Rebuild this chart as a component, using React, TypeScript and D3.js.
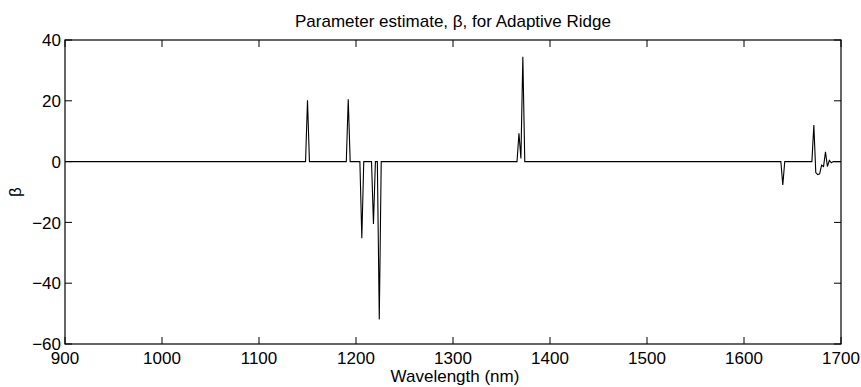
import React from "react";
import * as d3 from "d3";

// Wavelength (nm) vertices of the coefficient trace, and beta values at them
const wavelengths = [
  900, 1148, 1150, 1152, 1190, 1192, 1194, 1204, 1206, 1208, 1216, 1218, 1220,
  1222, 1224, 1226, 1366, 1368, 1370, 1372, 1374, 1638, 1640, 1642, 1670, 1672,
  1674, 1676, 1678, 1680, 1682, 1684, 1686, 1688, 1690, 1692, 1700,
];
const betas = [
  0, 0, 20.2, 0, 0, 20.5, 0, 0, -25.2, 0, 0, -20.5, 0,
  0, -51.9, 0, 0, 9.3, 1.0, 34.5, 0, 0, -7.7, 0, 0, 12.0,
  -3.6, -4.3, -4.0, -1.2, -1.6, 3.2, -1.6, 0.4, -0.4, 0, 0,
];
const xTicks = [900, 1000, 1100, 1200, 1300, 1400, 1500, 1600, 1700];
const yTicks = [-60, -40, -20, 0, 20, 40];
const titleText = "Parameter estimate, \u03B2, for Adaptive Ridge";
const xLabelText = "Wavelength (nm)";
const yLabelText = "\u03B2";

const W = 861;
const H = 387;
const M = { left: 65, right: 20, top: 40, bottom: 43 };
const FONT = "'Liberation Sans', Arial, Helvetica, sans-serif";

export default function App() {
  const x = d3.scaleLinear().domain([900, 1700]).range([M.left, W - M.right]);
  const y = d3.scaleLinear().domain([-60, 40]).range([H - M.bottom, M.top]);
  const pts: [number, number][] = wavelengths.map((w, i) => [w, betas[i]]);
  const line = d3
    .line<[number, number]>()
    .x((d) => x(d[0]))
    .y((d) => y(d[1]));
  const x0 = M.left;
  const x1 = W - M.right;
  const y0 = H - M.bottom;
  const y1 = M.top;
  const tl = 7;
  const fs = 17;
  return (
    <svg
      width={W}
      height={H}
      style={{ position: "absolute", left: 0, top: 0, background: "#fff" }}
      fontFamily={FONT}
    >
      <rect x={0} y={0} width={W} height={H} fill="#fff" />
      <path d={line(pts) ?? ""} fill="none" stroke="#000" strokeWidth={1.1} />
      <rect
        x={x0}
        y={y1}
        width={x1 - x0}
        height={y0 - y1}
        fill="none"
        stroke="#000"
        strokeWidth={1.2}
      />
      {xTicks.map((t) => (
        <g key={"x" + t}>
          <line x1={x(t)} x2={x(t)} y1={y0} y2={y0 - tl} stroke="#000" />
          <line x1={x(t)} x2={x(t)} y1={y1} y2={y1 + tl} stroke="#000" />
          <text x={x(t)} y={y0 + 20} textAnchor="middle" fontSize={fs}>
            {t}
          </text>
        </g>
      ))}
      {yTicks.map((t) => (
        <g key={"y" + t}>
          <line x1={x0} x2={x0 + tl} y1={y(t)} y2={y(t)} stroke="#000" />
          <line x1={x1} x2={x1 - tl} y1={y(t)} y2={y(t)} stroke="#000" />
          <text
            x={x0 - 4}
            y={y(t)}
            dy="0.36em"
            textAnchor="end"
            fontSize={fs}
          >
            {t < 0 ? "\u2212" + Math.abs(t) : String(t)}
          </text>
        </g>
      ))}
      <text x={(x0 + x1) / 2} y={27} textAnchor="middle" fontSize={fs}>
        {titleText}
      </text>
      <text x={(x0 + x1) / 2 + 2} y={382} textAnchor="middle" fontSize={fs}>
        {xLabelText}
      </text>
      <text
        transform={`translate(21, ${(y0 + y1) / 2}) rotate(-90)`}
        textAnchor="middle"
        fontSize={fs}
      >
        {yLabelText}
      </text>
    </svg>
  );
}
